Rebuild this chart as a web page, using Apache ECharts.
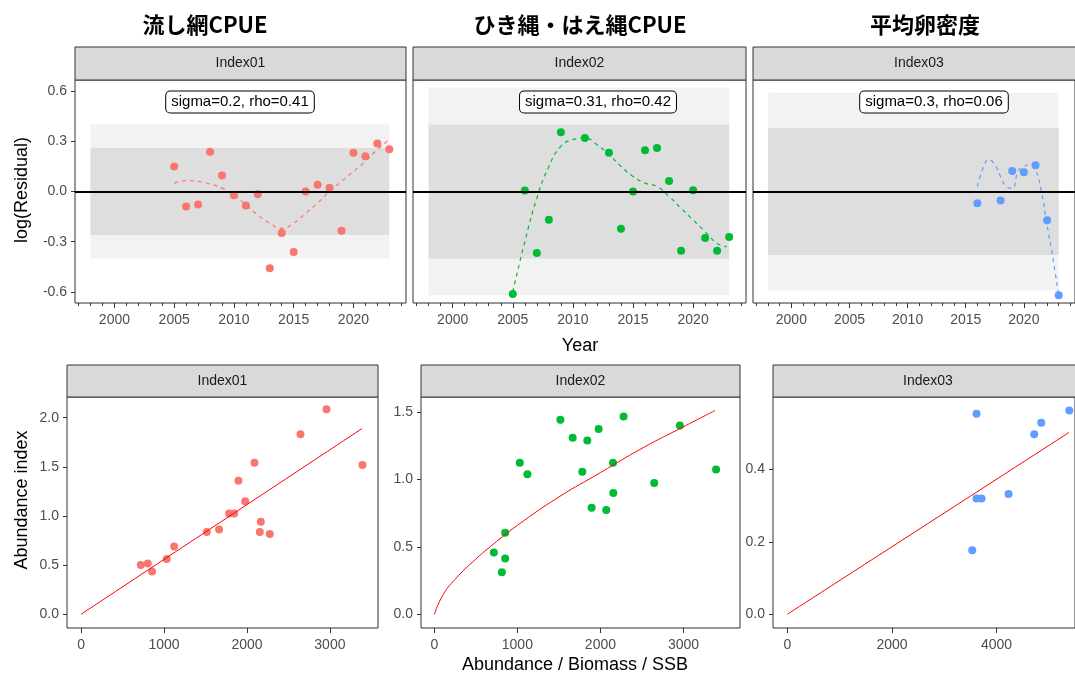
<!DOCTYPE html>
<html><head><meta charset="utf-8">
<script src="https://cdn.jsdelivr.net/npm/echarts@6/dist/echarts.min.js"></script>
<style>html,body{margin:0;background:#fff}#c{width:1075px;height:677px}</style>
</head><body><div id="c"></div>
<script>
// residual panels
const years1 = [2005,2006,2007,2008,2009,2010,2011,2012,2013,2014,2015,2016,2017,2018,2019,2020,2021,2022,2023];
const resid1 = [0.149,-0.09,-0.077,0.238,0.095,-0.022,-0.083,-0.016,-0.459,-0.248,-0.362,0.0,0.04,0.022,-0.234,0.232,0.211,0.286,0.252];
const smooth1 = [0.05,0.065,0.06,0.045,0.02,-0.02,-0.08,-0.14,-0.19,-0.22,-0.19,-0.13,-0.07,0.0,0.06,0.12,0.18,0.25,0.31];
const years2 = [2005,2006,2007,2008,2009,2011,2013,2014,2015,2016,2017,2018,2019,2020,2021,2022,2023];
const resid2 = [-0.612,0.006,-0.368,-0.169,0.354,0.32,0.232,-0.223,0.0,0.246,0.26,0.062,-0.354,0.008,-0.278,-0.354,-0.272];
const smoothYears2 = [2005,2006,2007,2008,2009,2010,2011,2012,2013,2014,2015,2016,2017,2018,2019,2020,2021,2022,2022.8];
const smooth2 = [-0.6,-0.3,-0.04,0.15,0.27,0.31,0.32,0.28,0.22,0.15,0.09,0.05,0.03,-0.03,-0.1,-0.17,-0.24,-0.31,-0.33];
const years3 = [2016,2018,2019,2020,2021,2022,2023];
const resid3 = [-0.07,-0.054,0.123,0.115,0.157,-0.171,-0.62];
const smoothYears3 = [2016,2016.5,2017,2017.5,2018,2018.5,2019,2019.5,2020,2020.5,2021,2021.5,2022,2022.5,2023];
const smooth3 = [0.03,0.14,0.19,0.16,0.09,0.03,0.02,0.12,0.15,0.16,0.13,0.0,-0.2,-0.4,-0.62];
const bands = [[0.26,0.40],[0.40,0.62],[0.38,0.59]];
const labels = ['sigma=0.2, rho=0.41','sigma=0.31, rho=0.42','sigma=0.3, rho=0.06'];
// abundance panels
const abund1 = [720,804,856,1033,1122,1516,1664,1785,1845,1897,1978,2090,2155,2167,2275,2645,2959,3393];
const index1 = [0.50,0.517,0.435,0.561,0.69,0.837,0.861,1.024,1.024,1.357,1.15,1.54,0.837,0.942,0.816,1.83,2.085,1.517];
const fitX1 = [0,3389], fitY1 = [0,1.89];
const abund2 = [717,853,853,813,1029,1121,1518,1666,1842,1782,1978,1894,2070,2151,2155,2279,2647,2956,3392];
const index2 = [0.458,0.606,0.414,0.313,1.123,1.039,1.441,1.308,1.288,1.057,1.374,0.791,0.773,1.123,0.899,1.466,0.973,1.399,1.074];
const fitX2 = [0,100,250,500,750,1000,1500,2000,2500,3000,3380];
const fitY2 = [0,0.14,0.26,0.41,0.54,0.66,0.87,1.05,1.23,1.39,1.51];
const abund3 = [3535,3617,3617,3713,4230,4721,4855,5391];
const index3 = [0.177,0.554,0.32,0.32,0.332,0.497,0.529,0.563];
const fitX3 = [0,5385], fitY3 = [0,0.502];

const cols = ['#F8766D','#00BA38','#619CFF'];
const strips = ['Index01','Index02','Index03'];
const zip = (a,b) => a.map((v,i)=>[v,b[i]]);

const topGrids = [{left:75,width:331},{left:413,width:333},{left:753,width:332}];
const botGrids = [{left:67,width:311},{left:421,width:319},{left:773,width:310}];
const grid = [], xAxis = [], yAxis = [], series = [], graphic = [];
const lab = {color:'#4d4d4d',fontSize:14,fontFamily:'Liberation Sans'};
const tickStyle = {lineStyle:{color:'#333'}};
const noLine = {show:false,onZero:false};

topGrids.forEach((g,i)=>{
  grid.push({left:g.left,width:g.width,top:80,height:223,show:true,borderColor:'#333',borderWidth:1});
  const gi = grid.length-1;
  xAxis.push({type:'value',gridIndex:gi,position:'bottom',min:1996.7,max:2024.4,splitLine:{show:false},axisLine:noLine,
    axisTick:{show:true,length:5,customValues:[2000,2005,2010,2015,2020],...tickStyle},
    axisLabel:{...lab,margin:10,customValues:[2000,2005,2010,2015,2020],formatter:v=>String(v)}});
  xAxis.push({type:'value',gridIndex:gi,position:'bottom',min:1996.7,max:2024.4,splitLine:{show:false},axisLine:noLine,
    axisTick:{show:true,length:3,customValues:Array.from({length:28},(_,k)=>1997+k),...tickStyle},axisLabel:{show:false}});
  yAxis.push({type:'value',gridIndex:gi,position:'left',min:-0.666,max:0.666,splitLine:{show:false},axisLine:noLine,
    axisTick:{show:i===0,length:4,customValues:[-0.6,-0.3,0,0.3,0.6],...tickStyle},
    axisLabel:{show:i===0,...lab,customValues:[-0.6,-0.3,0,0.3,0.6],formatter:v=>v.toFixed(1)}});
  const xi = xAxis.length-2, yi = yAxis.length-1;
  const b = bands[i];
  series.push({type:'line',xAxisIndex:xi,yAxisIndex:yi,data:[],silent:true,
    markArea:{silent:true,data:[
      [{xAxis:1998,yAxis:-b[1],itemStyle:{color:'#f2f2f2'}},{xAxis:2023,yAxis:b[1]}],
      [{xAxis:1998,yAxis:-b[0],itemStyle:{color:'#dedede'}},{xAxis:2023,yAxis:b[0]}]]},
    markLine:{silent:true,symbol:'none',label:{show:false},lineStyle:{color:'#000',width:2,type:'solid'},data:[{yAxis:0}]}});
  const pts = [zip(years1,resid1),zip(years2,resid2),zip(years3,resid3)][i];
  const sm = [zip(years1,smooth1),zip(smoothYears2,smooth2),zip(smoothYears3,smooth3)][i];
  series.push({type:'line',xAxisIndex:xi,yAxisIndex:yi,data:sm,smooth:true,showSymbol:false,
    lineStyle:{color:cols[i],width:1.2,type:[4,4]}});
  series.push({type:'scatter',xAxisIndex:xi,yAxisIndex:yi,data:pts,symbolSize:8,itemStyle:{color:cols[i],opacity:1}});
  graphic.push({type:'rect',shape:{x:g.left,y:47,width:g.width,height:33},style:{fill:'#d9d9d9',stroke:'#333',lineWidth:1}});
  graphic.push({type:'text',x:g.left+g.width/2,y:63,style:{text:strips[i],fill:'#1a1a1a',font:'14px Liberation Sans',align:'center',verticalAlign:'middle'}});
  const cx = [240,598,934][i];
  graphic.push({type:'text',x:cx,y:102,z:50,style:{text:labels[i],fill:'#000',font:'15px Liberation Sans',align:'center',verticalAlign:'middle',
    backgroundColor:'#fff',borderColor:'#000',borderWidth:1,borderRadius:4,padding:[3,5]}});
});

const botY = [{min:-0.14,max:2.21,t:[0,0.5,1,1.5,2]},{min:-0.10,max:1.61,t:[0,0.5,1,1.5]},{min:-0.038,max:0.6,t:[0,0.2,0.4]}];
const botX = [{min:-170,max:3580,t:[0,1000,2000,3000]},{min:-160,max:3680,t:[0,1000,2000,3000]},{min:-275,max:5500,t:[0,2000,4000]}];
const botPts = [zip(abund1,index1),zip(abund2,index2),zip(abund3,index3)];
const botFit = [zip(fitX1,fitY1),zip(fitX2,fitY2),zip(fitX3,fitY3)];
botGrids.forEach((g,i)=>{
  grid.push({left:g.left,width:g.width,top:397,height:231,show:true,borderColor:'#333',borderWidth:1});
  const gi = grid.length-1;
  xAxis.push({type:'value',gridIndex:gi,position:'bottom',min:botX[i].min,max:botX[i].max,splitLine:{show:false},axisLine:noLine,
    axisTick:{length:5,customValues:botX[i].t,...tickStyle},axisLabel:{...lab,margin:10,customValues:botX[i].t,formatter:v=>String(v)}});
  yAxis.push({type:'value',gridIndex:gi,position:'left',min:botY[i].min,max:botY[i].max,splitLine:{show:false},axisLine:noLine,
    axisTick:{length:4,customValues:botY[i].t,...tickStyle},axisLabel:{...lab,customValues:botY[i].t,formatter:v=>v.toFixed(1)}});
  const xi = xAxis.length-1, yi = yAxis.length-1;
  series.push({type:'line',xAxisIndex:xi,yAxisIndex:yi,data:botFit[i],smooth:true,showSymbol:false,lineStyle:{color:'#ff0000',width:1}});
  series.push({type:'scatter',xAxisIndex:xi,yAxisIndex:yi,data:botPts[i],symbolSize:8,itemStyle:{color:cols[i],opacity:1}});
  graphic.push({type:'rect',shape:{x:g.left,y:365,width:g.width,height:32},style:{fill:'#d9d9d9',stroke:'#333',lineWidth:1}});
  graphic.push({type:'text',x:g.left+g.width/2,y:381,style:{text:strips[i],fill:'#1a1a1a',font:'14px Liberation Sans',align:'center',verticalAlign:'middle'}});
});

const titles = [['流し網CPUE',205],['ひき縄・はえ縄CPUE',580],['平均卵密度',925]];
titles.forEach(([t,x])=>graphic.push({type:'text',x:x,y:25,style:{text:t,fill:'#000',font:'bold 22px "Noto Sans CJK JP", Liberation Sans',align:'center',verticalAlign:'middle'}}));
const axt = 'normal 18px Liberation Sans';
graphic.push({type:'text',x:580,y:346,style:{text:'Year',fill:'#000',font:axt,align:'center',verticalAlign:'middle'}});
graphic.push({type:'text',x:575,y:665,style:{text:'Abundance / Biomass / SSB',fill:'#000',font:axt,align:'center',verticalAlign:'middle'}});
graphic.push({type:'text',x:22,y:190,rotation:Math.PI/2,style:{text:'log(Residual)',fill:'#000',font:axt,align:'center',verticalAlign:'middle'}});
graphic.push({type:'text',x:22,y:500,rotation:Math.PI/2,style:{text:'Abundance index',fill:'#000',font:axt,align:'center',verticalAlign:'middle'}});

const chart = echarts.init(document.getElementById('c'));
chart.setOption({animation:false,grid,xAxis,yAxis,series,graphic});
</script></body></html>
